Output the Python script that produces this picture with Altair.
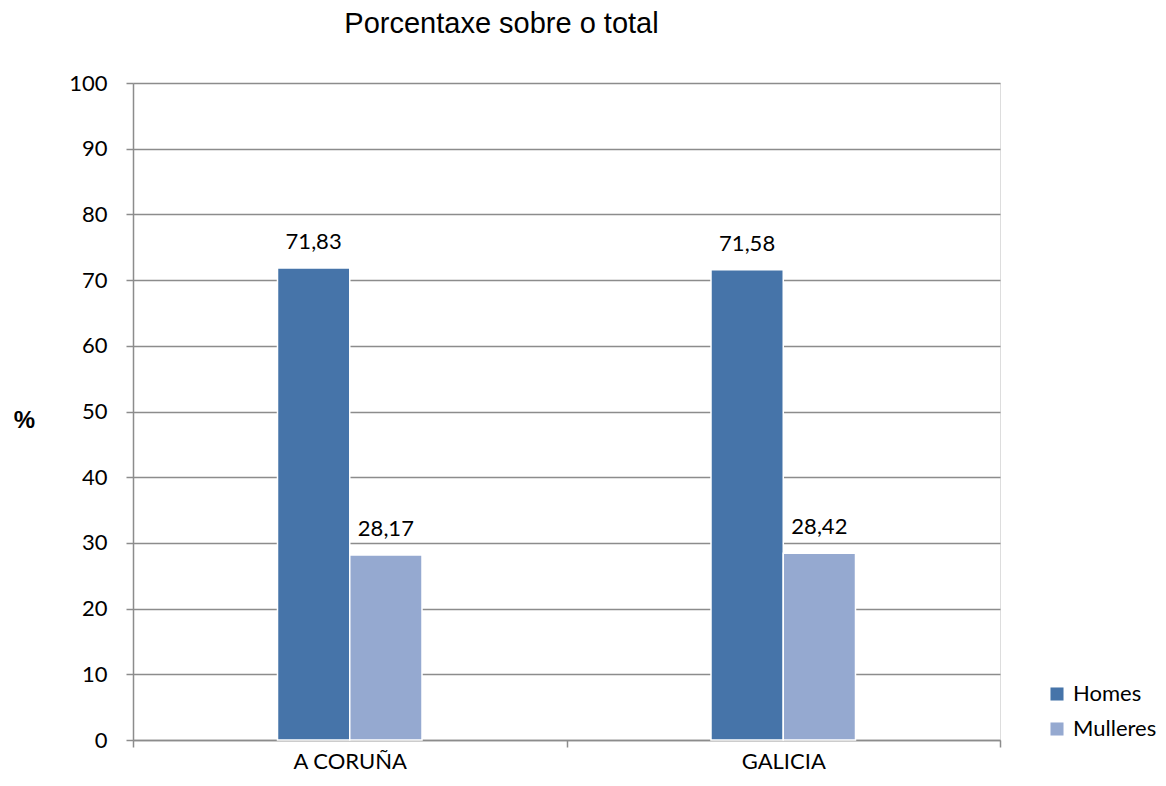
import altair as alt
import pandas as pd

categories = ["A CORUÑA", "GALICIA"]
series = ["Homes", "Mulleres"]
homes = [71.83, 71.58]
mulleres = [28.17, 28.42]
colors = ["#4674A9", "#95A9D0"]

rows = []
for i, c in enumerate(categories):
    for s, vals in zip(series, [homes, mulleres]):
        v = vals[i]
        rows.append({"cat": c, "serie": s, "val": v, "lab": f"{v:.2f}".replace(".", ",")})
df = pd.DataFrame(rows)

FONT = "Lato"
offset_domain = ["_p1", "_p2"] + series + ["_p3", "_p4"]

base = alt.Chart(df).encode(
    x=alt.X("cat:N", sort=categories,
            scale=alt.Scale(paddingInner=0, paddingOuter=0),
            axis=alt.Axis(title=None, labelAngle=0, tickBand="extent", tickSize=7,
                          tickColor="#8c8c8c", tickWidth=1.5, domainColor="#8c8c8c",
                          domainWidth=1.5, labelFont=FONT, labelFontSize=22,
                          labelColor="#000000", labelPadding=4, grid=False)),
    xOffset=alt.XOffset("serie:N",
                        scale=alt.Scale(domain=offset_domain, paddingOuter=0, paddingInner=0)),
)

bars = base.mark_bar(stroke="white", strokeWidth=1.5).encode(
    y=alt.Y("val:Q", scale=alt.Scale(domain=[0, 100]),
            axis=alt.Axis(values=list(range(0, 101, 10)), title="%", titleAngle=0,
                          titleFont="Liberation Sans", titleFontSize=24, titleFontWeight="bold",
                          titleX=-109, titleY=337, titleBaseline="middle", titleAlign="center",
                          labelFont=FONT, labelFontSize=22, labelColor="#000000",
                          labelPadding=19, tickSize=7, tickColor="#8c8c8c", tickWidth=1.5,
                          domainColor="#8c8c8c", domainWidth=1.5,
                          gridColor="#8c8c8c", gridWidth=1.5)),
    color=alt.Color("serie:N", sort=series,
                    scale=alt.Scale(domain=series, range=colors),
                    legend=alt.Legend(title=None, orient="none", legendX=913, legendY=600,
                                      symbolType="square", symbolSize=170,
                                      symbolStrokeWidth=0, labelFont=FONT,
                                      labelFontSize=22, labelColor="#000000",
                                      rowPadding=13, padding=0, labelOffset=5)),
)

labels = base.mark_text(font=FONT, fontSize=22, baseline="alphabetic", dy=-19,
                        color="#000000").encode(
    y=alt.Y("val:Q"),
    text="lab:N",
)

chart = alt.layer(bars, labels).properties(
    width=867, height=657,
    title=alt.TitleParams("Porcentaxe sobre o total", font="Liberation Sans", fontSize=29,
                          fontWeight="normal", color="#000000", anchor="middle",
                          dx=-65, offset=33, frame="group"),
    autosize=alt.AutoSizeParams(type="none"),
    padding={"left": 125, "top": 75, "right": 158, "bottom": 38},
).configure_view(stroke=None).configure(background="white")

chart.save("out.html", embed_options={"renderer": "svg", "actions": False})
